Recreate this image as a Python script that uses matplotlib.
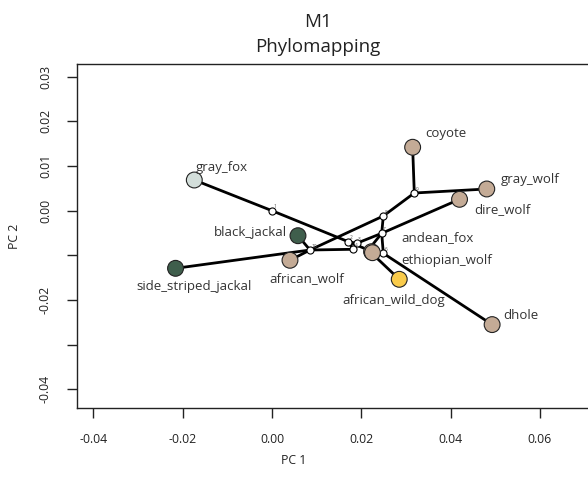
import matplotlib
matplotlib.use("Agg")
import matplotlib.pyplot as plt

plt.rcParams['font.family'] = ['Open Sans', 'DejaVu Sans']

# ---- data ----
tip_names = ["gray_fox", "coyote", "gray_wolf", "dire_wolf", "black_jackal",
             "side_striped_jackal", "african_wolf", "african_wild_dog", "dhole",
             "andean_fox", "ethiopian_wolf"]
tip_x = [-0.0174, 0.0315, 0.0481, 0.0420, 0.00582, -0.0216, 0.00403, 0.0285, 0.0493, 0.0223, 0.0225]
tip_y = [0.00687, 0.0142, 0.00486, 0.00255, -0.0056, -0.0129, -0.0111, -0.01536, -0.0255, -0.00918, -0.0094]
tip_colors = ["#D3DEDA", "#C4AB96", "#C4AB96", "#C4AB96", "#3F5E4C", "#3F5E4C",
              "#C4AB96", "#F9CB4B", "#C4AB96", "#C4AB96", "#C4AB96"]
label_x = [-0.0113, 0.0390, 0.0578, 0.0515, -0.0048, -0.0175, 0.0078, 0.0273, 0.0558, 0.0370, 0.0391]
label_y = [0.0097, 0.0172, 0.0070, 0.0002, -0.0048, -0.0170, -0.0151, -0.0200, -0.0234, -0.0060, -0.0111]

node_names = ["1", "2", "3", "4", "5", "6", "7", "8", "9", "10"]
node_x = [0.0, 0.01709, 0.01897, 0.01821, 0.02157, 0.02493, 0.02457, 0.02493, 0.03187, 0.00851]
node_y = [0.0, -0.00694, -0.00730, -0.00864, -0.00880, -0.00954, -0.00506, -0.00119, 0.00396, -0.00880]

edges = [("gray_fox", "1"), ("1", "2"), ("2", "5"), ("2", "3"), ("2", "4"),
         ("4", "10"), ("10", "side_striped_jackal"), ("10", "black_jackal"),
         ("10", "african_wolf"), ("10", "8"), ("8", "9"), ("9", "coyote"),
         ("9", "gray_wolf"), ("3", "7"), ("7", "dire_wolf"), ("7", "8"),
         ("7", "6"), ("7", "5"), ("6", "dhole"), ("6", "ethiopian_wolf"),
         ("5", "african_wild_dog"), ("5", "andean_fox")]

x_ticks = [-0.04, -0.02, 0.00, 0.02, 0.04, 0.06]
x_ticklabels = ["-0.04", "-0.02", "0.00", "0.02", "0.04", "0.06"]
y_ticks = [0.03, 0.02, 0.01, 0.00, -0.01, -0.02, -0.03, -0.04]
y_ticklabels = ["0.03", "0.02", "0.01", "0.00", "", "-0.02", "", "-0.04"]

# ---- figure ----
W, H = 588, 482
fig = plt.figure(figsize=(W / 100, H / 100), dpi=100)
ax = fig.add_axes([77 / W, 1 - 408 / H, (600 - 77) / W, (408 - 64) / H])
ax.set_xlim(-0.04367, 0.07346)
ax.set_ylim(-0.04417, 0.03284)

pos = {}
for n, x, y in zip(tip_names, tip_x, tip_y):
    pos[n] = (x, y)
for n, x, y in zip(node_names, node_x, node_y):
    pos[n] = (x, y)

for a, b in edges:
    ax.plot([pos[a][0], pos[b][0]], [pos[a][1], pos[b][1]], color="black",
            lw=2.0, solid_capstyle="round", zorder=1)

ax.scatter(node_x, node_y, s=26, facecolor="white", edgecolor="black", linewidth=0.8, zorder=3)
for n, x, y in zip(node_names, node_x, node_y):
    ax.text(x + 0.0003, y + 0.0005, n, fontsize=3.5, color="#555555", zorder=4)

ax.scatter(tip_x, tip_y, s=130, c=tip_colors, edgecolor="#222222", linewidth=0.8, zorder=5)
for n, x, y in zip(tip_names, label_x, label_y):
    ax.text(x, y, n, fontsize=9.5, color="#333333", ha="center", va="center", zorder=6)

ax.spines["right"].set_visible(False)
for s in ax.spines.values():
    s.set_linewidth(1.0)
    s.set_color("#222222")

ax.set_xticks(x_ticks)
ax.set_xticklabels(x_ticklabels)
ax.set_yticks(y_ticks)
ax.set_yticklabels(y_ticklabels, rotation=90, va="center")
ax.tick_params(axis="both", direction="out", length=7, width=1.0, labelsize=8.8, colors="#222222", pad=11)

fig.text(318 / W, 1 - 26.7 / H, "M1", ha="center", va="baseline", fontsize=13.5, color="#222222")
fig.text(318 / W, 1 - 51.7 / H, "Phylomapping", ha="center", va="baseline", fontsize=13.5, color="#222222")
fig.text(294 / W, 1 - 460 / H, "PC 1", ha="center", va="center", fontsize=8.8, color="#222222")
fig.text(15 / W, 1 - 236 / H, "PC 2", ha="center", va="center", fontsize=8.8, color="#222222", rotation=90)

fig.savefig("out.png", dpi=100)
